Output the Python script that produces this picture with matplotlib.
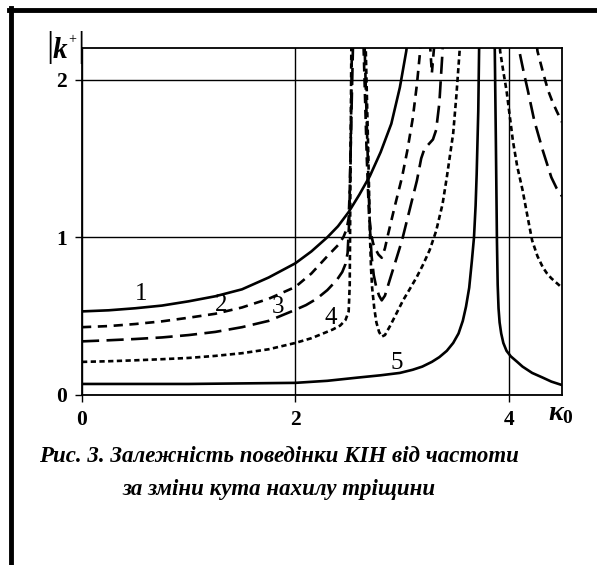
import numpy as np
import matplotlib
matplotlib.use("Agg")
import matplotlib.pyplot as plt
from matplotlib.lines import Line2D

plt.rcParams['mathtext.fontset'] = 'custom'
plt.rcParams['mathtext.rm'] = 'Liberation Serif:bold'
plt.rcParams['mathtext.it'] = 'Liberation Serif:italic:bold'
plt.rcParams['mathtext.bf'] = 'Liberation Serif:bold'

# ---- data ----
x1 = [0, 0.25, 0.5, 0.75, 1.0, 1.25, 1.5, 1.75, 2.0, 2.15, 2.3, 2.4, 2.5, 2.6, 2.7, 2.8, 2.9, 2.98,
      3.04, 3.08]
y1 = [0.53, 0.537, 0.55, 0.567, 0.594, 0.626, 0.67, 0.745, 0.835, 0.91, 1.0, 1.07, 1.16, 1.27,
      1.39, 1.54, 1.72, 1.95, 2.18, 2.4]

x2 = [0, 0.25, 0.5, 0.75, 1.0, 1.25, 1.5, 1.75, 2.0, 2.15, 2.3, 2.4, 2.45, 2.48, 2.50, 2.51, 2.52,
      2.53, 2.55,
      2.62, 2.64, 2.67, 2.69, 2.71, 2.73, 2.755, 2.78, 2.81, 2.84, 2.87, 2.93, 3.0, 3.05, 3.10,
      3.14, 3.17, 3.2,
      3.25, 3.265, 3.28, 3.30, 3.32,
      4.2, 4.27, 4.32, 4.37, 4.41, 4.45, 4.5]
y2 = [0.43, 0.437, 0.45, 0.467, 0.49, 0.515, 0.555, 0.61, 0.685, 0.77, 0.88, 0.95, 1.0, 1.05, 1.12,
      1.3, 1.6, 2.2, 3.0,
      3.0, 2.2, 1.5, 1.15, 1.02, 0.96, 0.92, 0.89, 0.87, 0.93, 1.02, 1.19, 1.38, 1.55, 1.75,
      1.97, 2.18, 2.5,
      2.5, 2.2, 2.04, 2.2, 2.6,
      2.6, 2.18, 2.05, 1.93, 1.86, 1.80, 1.73]

x3 = [0, 0.25, 0.5, 0.75, 1.0, 1.25, 1.5, 1.75, 2.0, 2.1, 2.2, 2.3, 2.39, 2.44, 2.47, 2.49, 2.505,
      2.52, 2.54, 2.56,
      2.63, 2.65, 2.675, 2.69, 2.70, 2.715, 2.735, 2.76, 2.785, 2.81, 2.84, 2.89, 2.95, 3.0,
      3.07, 3.14, 3.18, 3.21, 3.25, 3.29, 3.32, 3.35, 3.38, 3.40,
      4.05, 4.10, 4.14, 4.18, 4.24, 4.32, 4.40, 4.45, 4.5]
y3 = [0.34, 0.347, 0.355, 0.365, 0.38, 0.40, 0.43, 0.47, 0.54, 0.57, 0.61, 0.665, 0.73, 0.78, 0.83,
      0.9, 1.1, 1.6, 2.2, 3.0,
      3.0, 2.2, 1.6, 1.25, 1.05, 0.88, 0.76, 0.68, 0.63, 0.60, 0.63, 0.74, 0.87, 0.98,
      1.17, 1.36, 1.50, 1.56, 1.59, 1.62, 1.68, 1.85, 2.18, 2.5,
      2.5, 2.18, 2.05, 1.93, 1.74, 1.55, 1.38, 1.31, 1.26]

x4 = [0, 0.25, 0.5, 0.75, 1.0, 1.25, 1.5, 1.75, 2.0, 2.15, 2.26, 2.35, 2.42, 2.47, 2.50, 2.51,
      2.515, 2.525, 2.54,
      2.62, 2.66, 2.685, 2.70, 2.71, 2.72, 2.74, 2.76, 2.785, 2.81, 2.84, 2.89, 2.95, 3.01, 3.08,
      3.14, 3.2, 3.26, 3.32, 3.38, 3.42, 3.45, 3.48, 3.51, 3.54, 3.56,
      3.90, 3.92, 3.95, 3.98, 4.04, 4.08, 4.13, 4.18, 4.22, 4.27, 4.32, 4.36, 4.4, 4.45, 4.5]
y4 = [0.21, 0.214, 0.22, 0.227, 0.235, 0.248, 0.265, 0.29, 0.33, 0.36, 0.39, 0.415, 0.44, 0.475,
      0.53, 0.7, 1.2, 2.2, 3.0,
      3.0, 2.2, 1.5, 1.0, 0.8, 0.68, 0.55, 0.46, 0.40, 0.37, 0.38, 0.44, 0.52, 0.60, 0.68,
      0.75, 0.83, 0.92, 1.04, 1.21, 1.38, 1.52, 1.66, 1.9, 2.18, 2.5,
      2.5, 2.18, 2.05, 1.93, 1.61, 1.45, 1.30, 1.12, 0.98, 0.88, 0.81, 0.77, 0.74, 0.71, 0.68]

x5 = [0, 1.0, 2.0, 2.3, 2.58, 2.8, 2.98, 3.1, 3.19, 3.28, 3.35, 3.42, 3.48, 3.53, 3.57, 3.60, 3.63,
      3.655, 3.675, 3.69, 3.70, 3.715, 3.725, 3.74,
      3.85, 3.87, 3.88, 3.89, 3.897, 3.905, 3.915, 3.93, 3.95, 3.98, 4.02, 4.08, 4.13, 4.22, 4.32,
      4.4, 4.5]
y5 = [0.07, 0.07, 0.077, 0.09, 0.11, 0.125, 0.14, 0.16, 0.18, 0.21, 0.24, 0.28, 0.33, 0.39, 0.47,
      0.56, 0.68, 0.85, 1.0, 1.2, 1.4, 1.8, 2.3, 3.0,
      3.0, 2.18, 1.61, 0.98, 0.70, 0.55, 0.46, 0.39, 0.33, 0.28, 0.245, 0.21, 0.18, 0.14, 0.11,
      0.085, 0.063]

labels = ['1', '2', '3', '4', '5']
label_pos_x = [0.553, 1.30, 1.84, 2.33, 2.95]
label_pos_y = [0.64, 0.57, 0.56, 0.49, 0.20]

xticks = [0, 2, 4]
yticks = [0, 1, 2]
caption_lines = ["Рис. 3. Залежність поведінки КІН від частоти",
                 "за зміни кута нахилу тріщини"]

# ---- figure ----
W, H = 597, 565
fig = plt.figure(figsize=(W / 100, H / 100), dpi=100)
ax = fig.add_axes([82 / W, 1 - 395 / H, (562 - 82) / W, (395 - 48) / H])

lw = 1.9
ax.plot(x1, y1, color='black', lw=lw)
ax.plot(x2, y2, color='black', lw=lw, dashes=(3.5, 2.5))
ax.plot(x3, y3, color='black', lw=lw, dashes=(6.5, 2.8))
ax.plot(x4, y4, color='black', lw=lw, dashes=(2.0, 1.3))
ax.plot(x5, y5, color='black', lw=lw)

serif = 'Liberation Serif'
for t, lx, ly in zip(labels, label_pos_x, label_pos_y):
    ax.text(lx, ly, t, fontsize=18, family=serif, ha='center', va='center')

ax.set_xlim(0, 4.5)
ax.set_ylim(0, 2.2)
ax.set_xticks(xticks)
ax.set_yticks(yticks)
ax.set_xticklabels([str(v) for v in xticks], family=serif, fontweight='bold', fontsize=15.5)
ax.set_yticklabels([str(v) for v in yticks], family=serif, fontweight='bold', fontsize=15.5)
ax.tick_params(direction='out', length=5, width=1.0, pad=6, color='black')
ax.grid(True, color='black', lw=1.0)
for s in ax.spines.values():
    s.set_linewidth(1.3)

# y-axis label |k+|
fig.text(50 / W, 1 - 47 / H, '|', family=serif, fontsize=26, ha='center', va='center')
fig.text(60 / W, 1 - 50 / H, 'k', family=serif, fontweight='bold', style='italic',
         fontsize=21, ha='center', va='center')
fig.text(71.8 / W, 1 - 40 / H, '+', family=serif, fontsize=10, ha='center', va='center')
fig.text(80.5 / W, 1 - 47 / H, '|', family=serif, fontsize=26, ha='center', va='center')

# x-axis label kappa_0
fig.text(561 / W, 1 - 412 / H, r'$\kappa_{0}$', fontsize=20, ha='center', va='center')

fig.text(279 / W, 1 - 456 / H, caption_lines[0], family=serif, fontweight='bold',
         style='italic', fontsize=16.5, ha='center', va='center')
fig.text(279 / W, 1 - 490 / H, caption_lines[1], family=serif, fontweight='bold',
         style='italic', fontsize=16.5, ha='center', va='center')

# page frame lines
fig.add_artist(Line2D([9 / W, 1.0], [1 - 10 / H, 1 - 10 / H], color='black', lw=3.5,
                      transform=fig.transFigure))
fig.add_artist(Line2D([11 / W, 11 / W], [1 - 8 / H, 0.0], color='black', lw=3.5,
                      transform=fig.transFigure))

fig.savefig('out.png', dpi=100)
